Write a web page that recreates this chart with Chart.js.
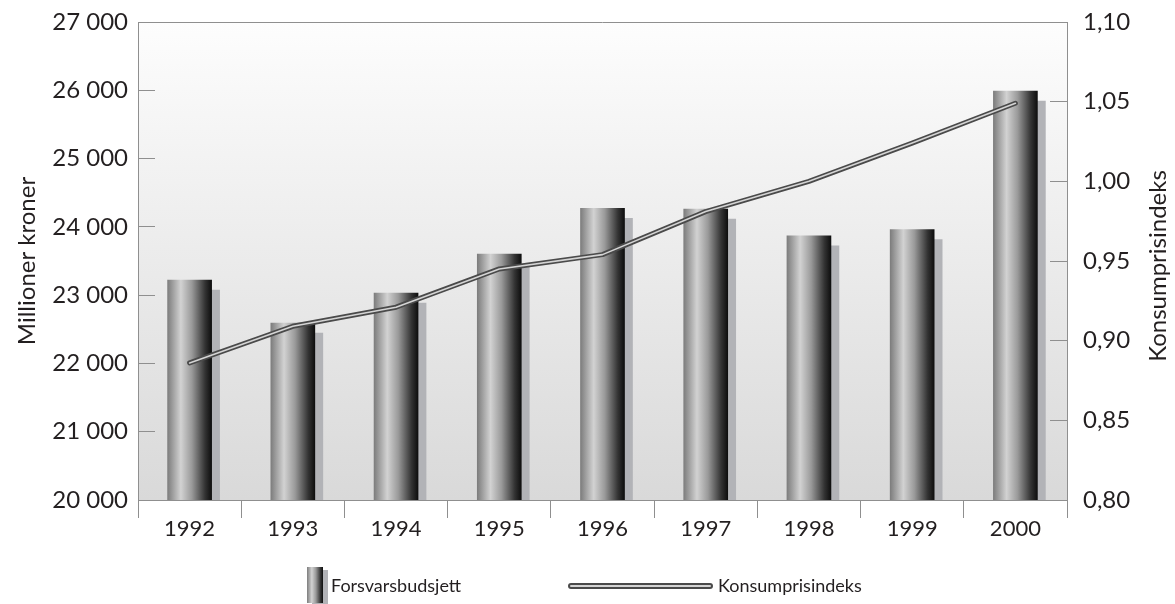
<!DOCTYPE html>
<html>
<head>
<meta charset="utf-8">
<script src="https://cdn.jsdelivr.net/npm/chart.js@4"></script>
<style>
  html, body { margin: 0; padding: 0; background: #fff; }
  #wrap { position: relative; width: 1175px; height: 604px; }
  #legend { position: absolute; left: 0; top: 567px; width: 1175px; height: 37px;
    font-family: Lato, sans-serif; font-size: 18px; color: #231f20; }
  .item { position: absolute; top: 0; height: 37px; line-height: 37px; white-space: nowrap; }
  .swatch { position: absolute; top: 0; width: 16px; height: 36px;
    background: linear-gradient(to right, #7d7d7d 0%, #d2d2d2 30%, #9a9a9a 55%, #333 85%, #0e0e0e 100%);
    box-shadow: 5px 3px 0 #b2b3b7; }
  .dline { position: absolute; top: 16px; height: 2px; border: 2px solid #4a4a4a; border-radius: 3px; background: #d4d4d4; }
</style>
</head>
<body>
<div id="wrap">
  <canvas id="chart" width="1175" height="604"></canvas>
  <div id="legend">
    <div class="item" style="left:307px"><div class="swatch"></div><span style="margin-left:24px">Forsvarsbudsjett</span></div>
    <div class="item" style="left:568px"><div class="dline" style="width:141px"></div><span style="margin-left:150px">Konsumprisindeks</span></div>
  </div>
</div>
<script>
const years = ['1992', '1993', '1994', '1995', '1996', '1997', '1998', '1999', '2000'];
const budsjett = [23220, 22590, 23030, 23600, 24270, 24260, 23870, 23960, 25990];
const kpi = [0.886, 0.909, 0.921, 0.945, 0.954, 0.981, 1.000, 1.024, 1.049];
const rightTitle = 'Konsumprisindeks';

const BAR_W = 44;
const AXIS = '#8f8f8f';
const TXT = '#231f20';
const FONT = 'Lato, sans-serif';

function barFill(c) {
  const chart = c.chart;
  const xs = chart.scales.x;
  if (!xs || c.type !== 'data') return '#888';
  const cx = xs.getPixelForValue(c.dataIndex);
  if (!isFinite(cx)) return '#888';
  const g = chart.ctx.createLinearGradient(cx - BAR_W / 2, 0, cx + BAR_W / 2, 0);
  g.addColorStop(0, '#7d7d7d');
  g.addColorStop(0.3, '#d2d2d2');
  g.addColorStop(0.55, '#9a9a9a');
  g.addColorStop(0.85, '#333333');
  g.addColorStop(1, '#0e0e0e');
  return g;
}

// bakgrunn i plottet, toppkant, høyre aksetittel, skygge bak søylene
const decor = {
  id: 'decor',
  beforeDraw(chart) {
    const {ctx, chartArea: a} = chart;
    const g = ctx.createLinearGradient(0, a.top, 0, a.bottom);
    g.addColorStop(0, '#fdfdfd');
    g.addColorStop(1, '#d9d9d9');
    ctx.save();
    ctx.fillStyle = g;
    ctx.fillRect(a.left, a.top, a.right - a.left, a.bottom - a.top);
    ctx.restore();
  },
  afterDraw(chart) {
    const {ctx, chartArea: a} = chart;
    ctx.save();
    ctx.strokeStyle = AXIS;
    ctx.lineWidth = 1;
    ctx.beginPath();
    ctx.moveTo(a.left, a.top + 0.5);
    ctx.lineTo(a.right, a.top + 0.5);
    ctx.stroke();
    ctx.translate(1158, 266);
    ctx.rotate(-Math.PI / 2);
    ctx.fillStyle = TXT;
    ctx.font = '24px ' + FONT;
    ctx.textAlign = 'center';
    ctx.textBaseline = 'middle';
    ctx.fillText(rightTitle, 0, 0);
    ctx.restore();
  },
  beforeDatasetDraw(chart, args) {
    if (args.meta.type !== 'bar') return;
    const ctx = chart.ctx;
    ctx.save();
    ctx.shadowColor = '#b2b3b7';
    ctx.shadowOffsetX = 8;
    ctx.shadowOffsetY = 10;
    ctx.shadowBlur = 0;
  },
  afterDatasetDraw(chart, args) {
    if (args.meta.type !== 'bar') return;
    chart.ctx.restore();
  }
};

const chart = new Chart(document.getElementById('chart'), {
  data: {
    labels: years,
    datasets: [
      {
        type: 'line', label: 'Konsumprisindeks', data: kpi, yAxisID: 'y1', order: 0,
        borderColor: '#d4d4d4', borderWidth: 1.6, tension: 0, pointRadius: 0,
        borderCapStyle: 'round', borderJoinStyle: 'round'
      },
      {
        type: 'line', label: 'Konsumprisindeks (kant)', data: kpi, yAxisID: 'y1', order: 1,
        borderColor: '#4a4a4a', borderWidth: 5, tension: 0, pointRadius: 0,
        borderCapStyle: 'round', borderJoinStyle: 'round'
      },
      {
        type: 'bar', label: 'Forsvarsbudsjett', data: budsjett, yAxisID: 'y', order: 2,
        backgroundColor: barFill, borderWidth: 0, barThickness: BAR_W
      }
    ]
  },
  options: {
    responsive: false,
    animation: false,
    layout: { padding: { top: 22, bottom: 44, left: 0, right: 0 } },
    plugins: { legend: { display: false }, tooltip: { enabled: false } },
    scales: {
      x: {
        offset: true,
        grid: { offset: true, drawOnChartArea: false, tickLength: 18, color: AXIS },
        border: { color: AXIS },
        ticks: { color: TXT, font: { family: FONT, size: 22 }, padding: -2, maxRotation: 0 },
        afterFit(s) { s.height = 60; s.paddingLeft = 0; s.paddingRight = 0; }
      },
      y: {
        position: 'left', min: 20000, max: 27000,
        grid: { drawOnChartArea: false, tickLength: -17, color: AXIS },
        border: { color: AXIS },
        ticks: {
          stepSize: 1000, color: TXT, font: { family: FONT, size: 24 }, padding: 27,
          callback: v => String(v).replace(/\B(?=(\d{3})+(?!\d))/g, ' ')
        },
        title: { display: true, text: 'Millioner kroner', color: TXT,
          font: { family: FONT, size: 24 }, padding: { top: 13, bottom: 0 } },
        afterFit(s) { s.width = 138; s.paddingTop = 0; s.paddingBottom = 0; }
      },
      y1: {
        position: 'right', min: 0.8, max: 1.1,
        grid: { drawOnChartArea: false, tickLength: -17, color: AXIS },
        border: { color: AXIS },
        ticks: {
          stepSize: 0.05, color: TXT, font: { family: FONT, size: 24 }, padding: 33,
          callback: v => v.toFixed(2).replace('.', ',')
        },
        afterFit(s) { s.width = 108; s.paddingTop = 0; s.paddingBottom = 0; }
      }
    }
  },
  plugins: [decor]
});
chart.update();
</script>
</body>
</html>
